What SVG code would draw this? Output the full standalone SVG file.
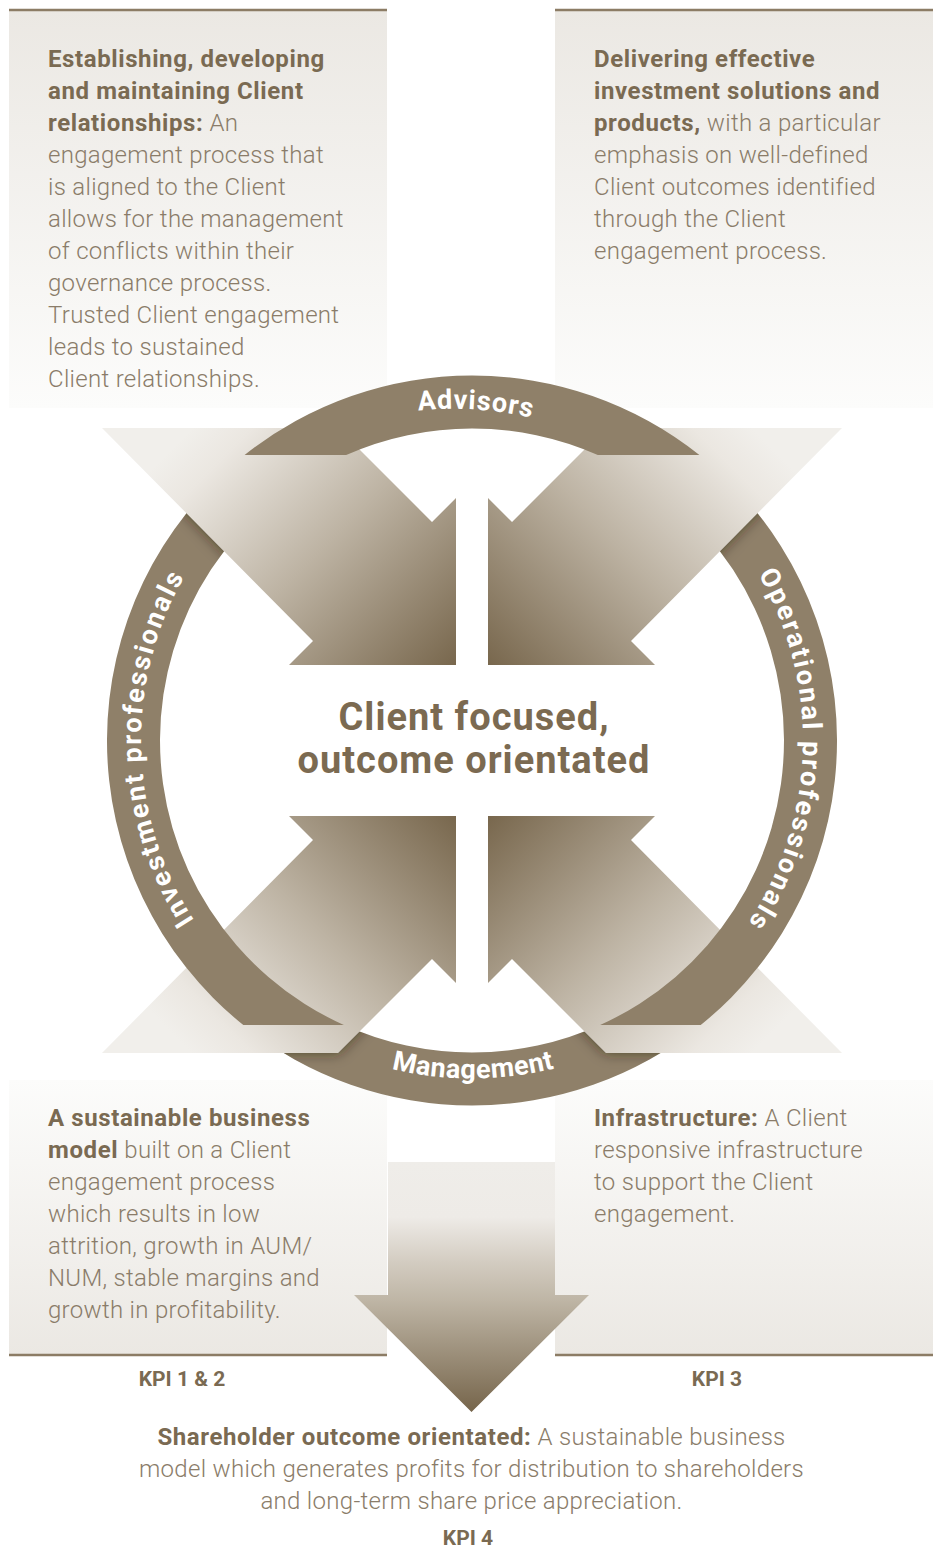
<svg xmlns="http://www.w3.org/2000/svg" xmlns:xlink="http://www.w3.org/1999/xlink" width="938" height="1547" viewBox="0 0 938 1547">
  <style>
    .t { font-family: Roboto, "Liberation Sans", sans-serif; font-size: 24px; font-weight: 300; fill: #8a7c69; letter-spacing: 0.3px; }
    .b { font-weight: 700; fill: #7a6a52; letter-spacing: 0.6px; }
    .kpi { font-family: Roboto, "Liberation Sans", sans-serif; font-size: 21px; font-weight: 700; fill: #7a6a52; text-anchor: middle; }
    .lbl { font-family: Roboto, "Liberation Sans", sans-serif; font-size: 27px; font-weight: 700; fill: #ffffff; text-anchor: middle; }
    .hub { font-family: Roboto, "Liberation Sans", sans-serif; font-size: 38px; font-weight: 700; fill: #7b6a51; text-anchor: middle; letter-spacing: 1px; }
    .rule { stroke: #8c7c65; stroke-width: 2.5; }
    .ring { fill: #8f8069; }
  </style>
  <defs>
    <linearGradient id="boxTop" x1="0" y1="0" x2="0" y2="1">
      <stop offset="0" stop-color="#ebe8e3"/>
      <stop offset="1" stop-color="#fcfcfb"/>
    </linearGradient>
    <linearGradient id="boxBottom" x1="0" y1="0" x2="0" y2="1">
      <stop offset="0" stop-color="#fcfcfb"/>
      <stop offset="1" stop-color="#ebe8e3"/>
    </linearGradient>
    <linearGradient id="gTL" gradientUnits="userSpaceOnUse" x1="310" y1="310" x2="560.5" y2="560.5">
      <stop offset="0" stop-color="#f1efeb"/>
      <stop offset="0.12" stop-color="#ebe7e1"/>
      <stop offset="0.5" stop-color="#bdb3a3"/>
      <stop offset="1" stop-color="#78674d"/>
    </linearGradient>
    <linearGradient id="gTR" gradientUnits="userSpaceOnUse" x1="634" y1="310" x2="383.5" y2="560.5">
      <stop offset="0" stop-color="#f1efeb"/>
      <stop offset="0.12" stop-color="#ebe7e1"/>
      <stop offset="0.5" stop-color="#bdb3a3"/>
      <stop offset="1" stop-color="#78674d"/>
    </linearGradient>
    <linearGradient id="gBL" gradientUnits="userSpaceOnUse" x1="310" y1="1171" x2="560.5" y2="920.5">
      <stop offset="0" stop-color="#f1efeb"/>
      <stop offset="0.12" stop-color="#ebe7e1"/>
      <stop offset="0.5" stop-color="#bdb3a3"/>
      <stop offset="1" stop-color="#78674d"/>
    </linearGradient>
    <linearGradient id="gBR" gradientUnits="userSpaceOnUse" x1="634" y1="1171" x2="383.5" y2="920.5">
      <stop offset="0" stop-color="#f1efeb"/>
      <stop offset="0.12" stop-color="#ebe7e1"/>
      <stop offset="0.5" stop-color="#bdb3a3"/>
      <stop offset="1" stop-color="#78674d"/>
    </linearGradient>
    <linearGradient id="gDown" gradientUnits="userSpaceOnUse" x1="0" y1="1162" x2="0" y2="1412">
      <stop offset="0" stop-color="#efede9"/>
      <stop offset="0.22" stop-color="#eeebe7"/>
      <stop offset="0.4" stop-color="#d3ccc1"/>
      <stop offset="0.55" stop-color="#bfb6a6"/>
      <stop offset="1" stop-color="#76654b"/>
    </linearGradient>

    <!-- chevron arrows pointing at the hub -->
    <polygon id="arrowTL" points="102,428 338,428 432,522 456,498 456,665 289,665 313,641"/>
    <polygon id="arrowTR" points="842,428 606,428 512,522 488,498 488,665 655,665 631,641"/>
    <polygon id="arrowBL" points="102,1053 338,1053 432,959 456,983 456,816 289,816 313,840"/>
    <polygon id="arrowBR" points="842,1053 606,1053 512,959 488,983 488,816 655,816 631,840"/>

    <!-- ring segments, centre (472,740.5), radii 365 / 312 -->
    <path id="arcAdv" d="M244.6,455 A365,365 0 0 1 699.4,455 L597.8,455 A312,312 0 0 0 346.2,455 Z"/>
    <path id="arcInv" d="M243.3,1025 A365,365 0 0 1 244.6,455 L346.2,455 A312,312 0 0 0 343.9,1025 Z"/>
    <path id="arcOps" d="M699.4,455 A365,365 0 0 1 700.7,1025 L600.1,1025 A312,312 0 0 0 597.8,455 Z"/>
    <path id="arcMgmt" d="M700.7,1025 A365,365 0 0 1 243.3,1025 L343.9,1025 A312,312 0 0 0 600.1,1025 Z"/>

    <!-- label baselines -->
    <path id="pAdv" d="M187.4,571.5 A331,331 0 0 1 760.7,578.5"/>
    <path id="pInv" d="M314.1,1031.4 A331,331 0 0 1 299.1,458.3"/>
    <path id="pOps" d="M646.4,459.2 A331,331 0 0 1 628.4,1032.2"/>
    <path id="pMgmt" d="M179.9,910.5 A338,338 0 0 0 765.3,908.5"/>

    <clipPath id="cInv"><use xlink:href="#arcInv"/></clipPath>
    <clipPath id="cOps"><use xlink:href="#arcOps"/></clipPath>
    <clipPath id="cMgmt"><use xlink:href="#arcMgmt"/></clipPath>

    <mask id="mInv" maskUnits="userSpaceOnUse" x="0" y="0" width="938" height="1547">
      <rect width="938" height="1547" fill="#fff"/>
      <use xlink:href="#arrowTL" fill="#000"/>
    </mask>
    <mask id="mOps" maskUnits="userSpaceOnUse" x="0" y="0" width="938" height="1547">
      <rect width="938" height="1547" fill="#fff"/>
      <use xlink:href="#arrowTR" fill="#000"/>
    </mask>
    <mask id="mMgmt" maskUnits="userSpaceOnUse" x="0" y="0" width="938" height="1547">
      <rect width="938" height="1547" fill="#fff"/>
      <use xlink:href="#arrowBL" fill="#000"/>
      <use xlink:href="#arrowBR" fill="#000"/>
    </mask>

    <filter id="soft" x="-20%" y="-20%" width="140%" height="140%">
      <feGaussianBlur stdDeviation="7"/>
    </filter>
  </defs>

  <rect width="938" height="1547" fill="#ffffff"/>

  <!-- text panels -->
  <g id="box-relationships">
    <rect x="9" y="10" width="378" height="398" fill="url(#boxTop)"/>
    <line class="rule" x1="9" y1="10" x2="387" y2="10"/>
    <text class="t" x="48" y="66.5"><tspan class="b">Establishing, developing</tspan></text>
    <text class="t" x="48" y="98.5"><tspan class="b">and maintaining Client</tspan></text>
    <text class="t" x="48" y="130.5"><tspan class="b">relationships:</tspan> An</text>
    <text class="t" x="48" y="162.5">engagement process that</text>
    <text class="t" x="48" y="194.5">is aligned to the Client</text>
    <text class="t" x="48" y="226.5">allows for the management</text>
    <text class="t" x="48" y="258.5">of conflicts within their</text>
    <text class="t" x="48" y="290.5">governance process.</text>
    <text class="t" x="48" y="322.5">Trusted Client engagement</text>
    <text class="t" x="48" y="354.5">leads to sustained</text>
    <text class="t" x="48" y="386.5">Client relationships.</text>
  </g>

  <g id="box-solutions">
    <rect x="555" y="10" width="378" height="398" fill="url(#boxTop)"/>
    <line class="rule" x1="555" y1="10" x2="933" y2="10"/>
    <text class="t" x="594" y="66.5"><tspan class="b">Delivering effective</tspan></text>
    <text class="t" x="594" y="98.5"><tspan class="b">investment solutions and</tspan></text>
    <text class="t" x="594" y="130.5"><tspan class="b">products,</tspan> with a particular</text>
    <text class="t" x="594" y="162.5">emphasis on well-defined</text>
    <text class="t" x="594" y="194.5">Client outcomes identified</text>
    <text class="t" x="594" y="226.5">through the Client</text>
    <text class="t" x="594" y="258.5">engagement process.</text>
  </g>

  <g id="box-business-model">
    <rect x="9" y="1080" width="378" height="275" fill="url(#boxBottom)"/>
    <line class="rule" x1="9" y1="1355" x2="387" y2="1355"/>
    <text class="t" x="48" y="1126"><tspan class="b">A sustainable business</tspan></text>
    <text class="t" x="48" y="1158"><tspan class="b">model</tspan> built on a Client</text>
    <text class="t" x="48" y="1190">engagement process</text>
    <text class="t" x="48" y="1222">which results in low</text>
    <text class="t" x="48" y="1254">attrition, growth in AUM/</text>
    <text class="t" x="48" y="1286">NUM, stable margins and</text>
    <text class="t" x="48" y="1318">growth in profitability.</text>
    <text class="kpi" x="182" y="1386">KPI 1 &amp; 2</text>
  </g>

  <g id="box-infrastructure">
    <rect x="555" y="1080" width="378" height="275" fill="url(#boxBottom)"/>
    <line class="rule" x1="555" y1="1355" x2="933" y2="1355"/>
    <text class="t" x="594" y="1126"><tspan class="b">Infrastructure:</tspan> A Client</text>
    <text class="t" x="594" y="1158">responsive infrastructure</text>
    <text class="t" x="594" y="1190">to support the Client</text>
    <text class="t" x="594" y="1222">engagement.</text>
    <text class="kpi" x="717" y="1386">KPI 3</text>
  </g>

  <!-- arrows feeding the hub and the shareholder outcome -->
  <g id="connectors">
    <use xlink:href="#arrowTL" fill="url(#gTL)"/>
    <use xlink:href="#arrowTR" fill="url(#gTR)"/>
    <use xlink:href="#arrowBL" fill="url(#gBL)"/>
    <use xlink:href="#arrowBR" fill="url(#gBR)"/>
    <polygon id="arrow-down" points="388,1162 555,1162 555,1295 589,1295 471.5,1412 354,1295 388,1295" fill="url(#gDown)"/>
  </g>

  <!-- ring of teams around the hub -->
  <g id="ring-management">
    <g mask="url(#mMgmt)">
      <use xlink:href="#arcMgmt" class="ring"/>
      <g clip-path="url(#cMgmt)">
        <use xlink:href="#arrowBL" fill="#2a2115" fill-opacity="0.6" filter="url(#soft)"/>
        <use xlink:href="#arrowBR" fill="#2a2115" fill-opacity="0.6" filter="url(#soft)"/>
      </g>
    </g>
    <text class="lbl" letter-spacing="0.5"><textPath xlink:href="#pMgmt" startOffset="50%">Management</textPath></text>
  </g>

  <g id="ring-investment">
    <g mask="url(#mInv)">
      <use xlink:href="#arcInv" class="ring"/>
      <g clip-path="url(#cInv)">
        <use xlink:href="#arrowTL" fill="#2a2115" fill-opacity="0.6" filter="url(#soft)"/>
      </g>
    </g>
    <text class="lbl" letter-spacing="2.3"><textPath xlink:href="#pInv" startOffset="50%">Investment professionals</textPath></text>
  </g>

  <g id="ring-operational">
    <g mask="url(#mOps)">
      <use xlink:href="#arcOps" class="ring"/>
      <g clip-path="url(#cOps)">
        <use xlink:href="#arrowTR" fill="#2a2115" fill-opacity="0.6" filter="url(#soft)"/>
      </g>
    </g>
    <text class="lbl" letter-spacing="2.3"><textPath xlink:href="#pOps" startOffset="50%">Operational professionals</textPath></text>
  </g>

  <g id="ring-advisors">
    <use xlink:href="#arcAdv" class="ring"/>
    <text class="lbl" letter-spacing="1" transform="rotate(3 476 400)"><textPath xlink:href="#pAdv" startOffset="50%">Advisors</textPath></text>
  </g>

  <g id="hub">
    <text class="hub" x="474" y="730">Client focused,</text>
    <text class="hub" x="474" y="773">outcome orientated</text>
  </g>

  <g id="shareholder-outcome">
    <text class="t" x="471.5" y="1445" text-anchor="middle"><tspan class="b">Shareholder outcome orientated:</tspan> A sustainable business</text>
    <text class="t" x="471.5" y="1477" text-anchor="middle">model which generates profits for distribution to shareholders</text>
    <text class="t" x="471.5" y="1509" text-anchor="middle">and long-term share price appreciation.</text>
    <text class="kpi" x="468" y="1545">KPI 4</text>
  </g>
</svg>
